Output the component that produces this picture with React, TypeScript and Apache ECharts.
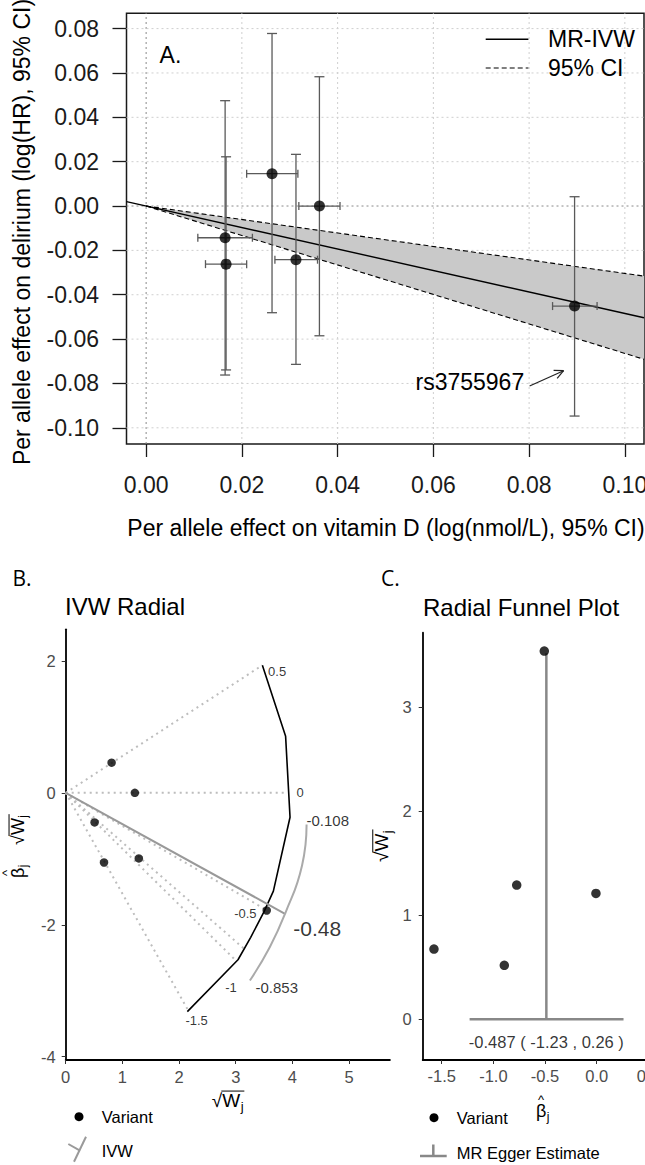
import React, { useEffect, useRef } from "react";
import * as echarts from "echarts";

const FONT = "'Liberation Sans', Arial, Helvetica, sans-serif";
const LABEL_FONT = "'Open Sans', 'Noto Sans', sans-serif";
const A_FS = 23;

// ---------- Panel A: scatter of variant effects ----------
const aVariantX = [0.0165, 0.0167, 0.0263, 0.0313, 0.0362, 0.0895];
const aVariantXLow = [0.0108, 0.0124, 0.021, 0.0269, 0.0319, 0.0849];
const aVariantXHigh = [0.0222, 0.021, 0.0317, 0.0358, 0.0405, 0.0942];
const aVariantY = [-0.0143, -0.0262, 0.0146, -0.0242, 0.0, -0.0451];
const aVariantYLow = [-0.0762, -0.0739, -0.0481, -0.0714, -0.0585, -0.0947];
const aVariantYHigh = [0.0475, 0.0222, 0.0778, 0.0233, 0.0583, 0.0042];
const aIvwLine = [[-0.0041, 0.002], [0.104, -0.0504]];
const aCiUpper = [[0, 0], [0.104, -0.0316]];
const aCiLower = [[0, 0], [0.104, -0.0691]];
const aXTicks = [0, 0.02, 0.04, 0.06, 0.08, 0.1];
const aYTicks = [-0.1, -0.08, -0.06, -0.04, -0.02, 0, 0.02, 0.04, 0.06, 0.08];

// ---------- Panel B: IVW radial ----------
const bSqrtW = [0.81, 1.22, 0.51, 0.676, 1.29, 3.547];
const bBetaSqrtW = [0.458, 0.0, -0.448, -1.055, -0.994, -1.783];
const bRayEnds = [[3.47, 1.935], [3.9, 0], [3.55, -1.78], [3.15, -2.365], [3.0, -2.54], [2.146, -3.275]];
const bScaleCurve = [[3.47, 1.935], [3.88, 0.857], [3.958, -0.37], [3.664, -1.49], [3.5, -1.8], [3.264, -2.19], [3.04, -2.53], [2.146, -3.316]];
const bScaleLabels = ["0.5", "0", "-0.5", "-1", "-1.5"];
const bScaleLabelPos = [[3.73, 1.833], [4.135, 0], [3.17, -1.833], [2.917, -2.95], [2.31, -3.45]];
const bIvwLine = [[0, 0], [3.87, -1.833]];
const bIvwArc = [[4.25, -0.48], [4.17, -1.1], [3.87, -1.833], [3.6, -2.34], [3.25, -2.845]];
const bArcLabels = ["-0.108", "-0.48", "-0.853"];
const bArcLabelPos = [[4.24, -0.42], [4.006, -2.06], [3.34, -2.95]];
const bArcLabelSize = [15, 21, 15];
const bXTicks = [0, 1, 2, 3, 4, 5];
const bYTicks = [-4, -2, 0, 2];

// ---------- Panel C: radial funnel ----------
const cBeta = [-0.507, -0.774, -0.007, -1.575, -0.894];
const cSqrtW = [3.54, 1.291, 1.21, 0.676, 0.519];
const cEgger = -0.487;
const cEggerLow = -1.23;
const cEggerHigh = 0.26;
const cEggerTop = 3.52;
const cEggerText = "-0.487 ( -1.23 , 0.26 )";
const cXTicks = [-1.5, -1, -0.5, 0, 0.5];
const cYTicks = [0, 1, 2, 3];

const A_X = [-0.0041, 0.104];
const A_Y = [-0.1073, 0.0869];

function txt(text: string, x: number, y: number, size: number, o: any = {}) {
  return {
    type: "text",
    x,
    y,
    rotation: o.rotation || 0,
    silent: true,
    z: 100,
    style: {
      text,
      fill: o.color || "#000",
      font: `${o.weight || "normal"} ${size}px ${o.family || FONT}`,
      textAlign: o.align || "left",
      textVerticalAlign: o.valign || "middle",
    },
  };
}
function seg(x1: number, y1: number, x2: number, y2: number, stroke: string, lineWidth: number, lineDash?: number[]) {
  return {
    type: "line",
    silent: true,
    z: 100,
    shape: { x1, y1, x2, y2 },
    style: { stroke, lineWidth, lineDash: lineDash || null },
  };
}

function sqrtWChildren(s: number, x0: number) {
  const w1 = s * (0.549 + 0.944);
  return [
    { type: "text", x: x0, y: 0, style: { text: "√W", font: `${s}px ${FONT}`, fill: "#000", textAlign: "left", textVerticalAlign: "middle" } },
    { type: "text", x: x0 + w1 + 0.5, y: s * 0.32, style: { text: "j", font: `${Math.round(s * 0.68)}px ${FONT}`, fill: "#000", textAlign: "left", textVerticalAlign: "middle" } },
    { type: "line", shape: { x1: x0 + s * 0.5, y1: -s * 0.47, x2: x0 + w1 + s * 0.22, y2: -s * 0.47 }, style: { stroke: "#000", lineWidth: 1 } },
  ];
}
function betaChildren(s: number, x0: number) {
  const bw = s * 0.57;
  return [
    { type: "text", x: x0, y: 0, style: { text: "β", font: `${s}px ${FONT}`, fill: "#000", textAlign: "left", textVerticalAlign: "middle" } },
    { type: "text", x: x0 + bw / 2, y: -s * 0.62, style: { text: "^", font: `${Math.round(s * 0.7)}px ${FONT}`, fill: "#000", textAlign: "center", textVerticalAlign: "middle" } },
    { type: "text", x: x0 + bw + 0.5, y: s * 0.32, style: { text: "j", font: `${Math.round(s * 0.68)}px ${FONT}`, fill: "#000", textAlign: "left", textVerticalAlign: "middle" } },
  ];
}

function buildOption(): any {
  const aGridV = {
    type: "custom",
    xAxisIndex: 0,
    yAxisIndex: 0,
    silent: true,
    z: 1,
    data: aXTicks.map((v) => [v, 0]),
    renderItem: (_p: any, api: any) => {
      const v = api.value(0);
      const p1 = api.coord([v, A_Y[0]]);
      const p2 = api.coord([v, A_Y[1]]);
      return { type: "line", shape: { x1: p1[0], y1: p1[1], x2: p2[0], y2: p2[1] }, style: { stroke: v === 0 ? "#8a8a8a" : "#cfcfcf", lineWidth: 1, lineDash: [2, 3] } };
    },
  };
  const aGridH = {
    type: "custom",
    xAxisIndex: 0,
    yAxisIndex: 0,
    silent: true,
    z: 1,
    data: aYTicks.map((v) => [0, v]),
    renderItem: (_p: any, api: any) => {
      const v = api.value(1);
      const p1 = api.coord([A_X[0], v]);
      const p2 = api.coord([A_X[1], v]);
      return { type: "line", shape: { x1: p1[0], y1: p1[1], x2: p2[0], y2: p2[1] }, style: { stroke: v === 0 ? "#8a8a8a" : "#cfcfcf", lineWidth: 1, lineDash: [2, 3] } };
    },
  };
  const aBand = {
    type: "custom",
    xAxisIndex: 0,
    yAxisIndex: 0,
    silent: true,
    z: 2,
    data: [[0, 0]],
    renderItem: (_p: any, api: any) => {
      const pts = aCiUpper.concat(aCiLower.slice().reverse()).map((p) => api.coord(p));
      return { type: "polygon", shape: { points: pts }, style: { fill: "#c9c9c9", stroke: "none" } };
    },
  };
  const aErr = {
    type: "custom",
    xAxisIndex: 0,
    yAxisIndex: 0,
    silent: true,
    z: 4,
    encode: { x: 0, y: 1 },
    data: aVariantX.map((x, i) => [x, aVariantY[i], aVariantXLow[i], aVariantXHigh[i], aVariantYLow[i], aVariantYHigh[i]]),
    renderItem: (_p: any, api: any) => {
      const x = api.value(0), y = api.value(1);
      const pT = api.coord([x, api.value(5)]);
      const pB = api.coord([x, api.value(4)]);
      const pL = api.coord([api.value(2), y]);
      const pR = api.coord([api.value(3), y]);
      const st = { stroke: "#5a5a5a", lineWidth: 1.3 };
      const cw = 5, ch = 4;
      const L = (x1: number, y1: number, x2: number, y2: number) => ({ type: "line", shape: { x1, y1, x2, y2 }, style: st });
      return {
        type: "group",
        children: [
          L(pT[0], pT[1], pB[0], pB[1]),
          L(pT[0] - cw, pT[1], pT[0] + cw, pT[1]),
          L(pB[0] - cw, pB[1], pB[0] + cw, pB[1]),
          L(pL[0], pL[1], pR[0], pR[1]),
          L(pL[0], pL[1] - ch, pL[0], pL[1] + ch),
          L(pR[0], pR[1] - ch, pR[0], pR[1] + ch),
        ],
      };
    },
  };

  const bRays = {
    type: "custom",
    xAxisIndex: 1,
    yAxisIndex: 1,
    silent: true,
    z: 2,
    data: bRayEnds,
    renderItem: (_p: any, api: any) => {
      const o = api.coord([0, 0]);
      const e = api.coord([api.value(0), api.value(1)]);
      return { type: "line", shape: { x1: o[0], y1: o[1], x2: e[0], y2: e[1] }, style: { stroke: "#bdbdbd", lineWidth: 2, lineDash: [2, 4] } };
    },
  };

  const axisTextB = { color: "#4d4d4d", fontSize: 16.5, fontFamily: FONT };

  const arrowFrom = [529.6, 386];
  const arrowTo = [563.6, 370.7];
  const ang = Math.atan2(arrowTo[1] - arrowFrom[1], arrowTo[0] - arrowFrom[0]);
  const heads = [ang + Math.PI - 0.45, ang + Math.PI + 0.45].map((a) =>
    seg(arrowTo[0], arrowTo[1], arrowTo[0] + 10 * Math.cos(a), arrowTo[1] + 10 * Math.sin(a), "#222", 1.2)
  );

  const graphic: any[] = [
    // Panel A annotations
    txt("A.", 159.6, 55, A_FS),
    seg(485.7, 39.3, 528.4, 39.3, "#000", 1.4),
    seg(485.7, 68, 528.4, 68, "#000", 1.1, [5, 3]),
    txt("MR-IVW", 548, 39.3, A_FS),
    txt("95% CI", 548, 68, A_FS),
    txt("rs3755967", 524.2, 381.7, A_FS, { align: "right" }),
    seg(arrowFrom[0], arrowFrom[1], arrowTo[0], arrowTo[1], "#222", 1.2),
    ...heads,
    txt("Per allele effect on vitamin D (log(nmol/L), 95% CI)", 386, 528.3, A_FS, { align: "center" }),
    txt("Per allele effect on delirium (log(HR), 95% CI)", 21.7, 232, A_FS, { align: "center", rotation: Math.PI / 2 }),
    // Panel labels and titles
    txt("B.", 12.4, 578.3, 21, { family: LABEL_FONT }),
    txt("C.", 381, 578.3, 21, { family: LABEL_FONT }),
    txt("IVW Radial", 65, 606, 24),
    txt("Radial Funnel Plot", 423, 607, 24),
    // Panel B axis titles
    { type: "group", x: 227.8, y: 1100, silent: true, children: sqrtWChildren(19, -16) },
    {
      type: "group",
      x: 17.5,
      y: 845,
      rotation: Math.PI / 2,
      silent: true,
      children: [...betaChildren(18, -33), ...sqrtWChildren(18, 0)],
    },
    // Panel C axis titles
    { type: "group", x: 543, y: 1111, silent: true, children: betaChildren(18, -7) },
    { type: "group", x: 381.7, y: 846, rotation: Math.PI / 2, silent: true, children: sqrtWChildren(19, -16) },
    // Legends B
    { type: "circle", silent: true, shape: { cx: 79, cy: 1116.7, r: 4.5 }, style: { fill: "#000" } },
    txt("Variant", 101.7, 1117, 16.5),
    seg(68.3, 1144, 80, 1150.7, "#9a9a9a", 2),
    seg(86, 1136.7, 74, 1161.7, "#9a9a9a", 2),
    txt("IVW", 101.7, 1151, 16.5),
    // Legends C
    { type: "circle", silent: true, shape: { cx: 434, cy: 1117.7, r: 4.5 }, style: { fill: "#000" } },
    txt("Variant", 456.7, 1117.7, 16.5),
    seg(420, 1156, 446.7, 1156, "#888", 2.5),
    seg(433.3, 1144.5, 433.3, 1156, "#888", 2.5),
    txt("MR Egger Estimate", 456.7, 1152.7, 16.5),
  ];

  return {
    animation: false,
    backgroundColor: "#fff",
    textStyle: { fontFamily: FONT },
    grid: [
      { left: 126.5, top: 13.3, width: 517.5, height: 430.7, show: true, borderColor: "#1a1a1a", borderWidth: 1.5, backgroundColor: "transparent", outerBoundsMode: "none" },
      { left: 65.7, top: 629.3, width: 324.2, height: 430.7, outerBoundsMode: "none" },
      { left: 422.7, top: 632.7, width: 240.6, height: 427.3, outerBoundsMode: "none" },
    ],
    xAxis: [
      {
        gridIndex: 0, type: "value", min: A_X[0], max: A_X[1], position: "bottom",
        axisLine: { show: false, onZero: false }, splitLine: { show: false },
        axisTick: { show: true, customValues: aXTicks, length: 13, lineStyle: { color: "#1a1a1a", width: 1.3 } },
        axisLabel: { customValues: aXTicks, formatter: (v: number) => v.toFixed(2), fontSize: A_FS, color: "#1a1a1a", fontFamily: FONT, margin: 29 },
      },
      {
        gridIndex: 1, type: "value", min: 0, max: 5.72, position: "bottom",
        axisLine: { show: true, onZero: false, lineStyle: { color: "#000", width: 1.8 } }, splitLine: { show: false },
        axisTick: { show: true, customValues: bXTicks, length: 4, lineStyle: { color: "#333", width: 1 } },
        axisLabel: { customValues: bXTicks, formatter: (v: number) => String(v), margin: 8, ...axisTextB },
      },
      {
        gridIndex: 2, type: "value", min: -1.684, max: 0.645, position: "bottom",
        axisLine: { show: true, onZero: false, lineStyle: { color: "#000", width: 1.8 } }, splitLine: { show: false },
        axisTick: { show: true, customValues: cXTicks, length: 4, lineStyle: { color: "#333", width: 1 } },
        axisLabel: { customValues: cXTicks, formatter: (v: number) => v.toFixed(1), margin: 7, ...axisTextB },
      },
    ],
    yAxis: [
      {
        gridIndex: 0, type: "value", min: A_Y[0], max: A_Y[1], position: "left",
        axisLine: { show: false, onZero: false }, splitLine: { show: false },
        axisTick: { show: true, customValues: aYTicks, length: 14, lineStyle: { color: "#1a1a1a", width: 1.3 } },
        axisLabel: { customValues: aYTicks, formatter: (v: number) => v.toFixed(2), fontSize: A_FS, color: "#1a1a1a", fontFamily: FONT, margin: 27.5 },
      },
      {
        gridIndex: 1, type: "value", min: -4.05, max: 2.48, position: "left",
        axisLine: { show: true, onZero: false, lineStyle: { color: "#000", width: 1.8 } }, splitLine: { show: false },
        axisTick: { show: true, customValues: bYTicks, length: 4, lineStyle: { color: "#333", width: 1 } },
        axisLabel: { customValues: bYTicks, formatter: (v: number) => String(v), margin: 10, ...axisTextB },
      },
      {
        gridIndex: 2, type: "value", min: -0.391, max: 3.717, position: "left",
        axisLine: { show: true, onZero: false, lineStyle: { color: "#000", width: 1.8 } }, splitLine: { show: false },
        axisTick: { show: true, customValues: cYTicks, length: 4, lineStyle: { color: "#333", width: 1 } },
        axisLabel: { customValues: cYTicks, formatter: (v: number) => String(v), margin: 11, ...axisTextB },
      },
    ],
    series: [
      aGridV,
      aGridH,
      aBand,
      { type: "line", xAxisIndex: 0, yAxisIndex: 0, z: 3, silent: true, symbol: "none", data: aCiUpper, lineStyle: { color: "#000", width: 1.1, type: [5, 3] } },
      { type: "line", xAxisIndex: 0, yAxisIndex: 0, z: 3, silent: true, symbol: "none", data: aCiLower, lineStyle: { color: "#000", width: 1.1, type: [5, 3] } },
      { type: "line", xAxisIndex: 0, yAxisIndex: 0, z: 3, silent: true, symbol: "none", data: aIvwLine, lineStyle: { color: "#000", width: 1.4 } },
      aErr,
      { type: "scatter", xAxisIndex: 0, yAxisIndex: 0, z: 5, silent: true, symbolSize: 11, itemStyle: { color: "#000" }, data: aVariantX.map((x, i) => [x, aVariantY[i]]) },
      // Panel B
      bRays,
      { type: "line", xAxisIndex: 1, yAxisIndex: 1, z: 3, silent: true, symbol: "none", data: bScaleCurve, lineStyle: { color: "#000", width: 1.6 } },
      { type: "line", xAxisIndex: 1, yAxisIndex: 1, z: 3, silent: true, symbol: "none", data: bIvwLine, lineStyle: { color: "#999", width: 2 } },
      { type: "line", xAxisIndex: 1, yAxisIndex: 1, z: 3, silent: true, symbol: "none", smooth: true, data: bIvwArc, lineStyle: { color: "#aaa", width: 2 } },
      {
        type: "scatter", xAxisIndex: 1, yAxisIndex: 1, z: 6, silent: true, symbolSize: 1, itemStyle: { color: "rgba(0,0,0,0)" },
        data: bScaleLabels.map((n, i) => ({ name: n, value: bScaleLabelPos[i] })),
        label: { show: true, position: "inside", formatter: (p: any) => p.name, color: "#000", fontSize: 13, fontFamily: FONT },
      },
      {
        type: "scatter", xAxisIndex: 1, yAxisIndex: 1, z: 6, silent: true, symbolSize: 1, itemStyle: { color: "rgba(0,0,0,0)" },
        data: bArcLabels.map((n, i) => ({ name: n, value: bArcLabelPos[i], label: { fontSize: bArcLabelSize[i] } })),
        label: { show: true, position: "right", distance: 0, formatter: (p: any) => p.name, color: "#000", fontSize: 15, fontFamily: FONT },
      },
      { type: "scatter", xAxisIndex: 1, yAxisIndex: 1, z: 5, silent: true, symbolSize: 8.5, itemStyle: { color: "#000" }, data: bSqrtW.map((x, i) => [x, bBetaSqrtW[i]]) },
      // Panel C
      { type: "line", xAxisIndex: 2, yAxisIndex: 2, z: 3, silent: true, symbol: "none", data: [[cEgger, 0], [cEgger, cEggerTop]], lineStyle: { color: "#888", width: 2.5 } },
      { type: "line", xAxisIndex: 2, yAxisIndex: 2, z: 3, silent: true, symbol: "none", data: [[cEggerLow, 0], [cEggerHigh, 0]], lineStyle: { color: "#888", width: 2.5 } },
      {
        type: "scatter", xAxisIndex: 2, yAxisIndex: 2, z: 6, silent: true, symbolSize: 1, itemStyle: { color: "rgba(0,0,0,0)" },
        data: [{ name: cEggerText, value: [cEgger, -0.215] }],
        label: { show: true, position: "inside", formatter: (p: any) => p.name, color: "#000", fontSize: 16.5, fontFamily: FONT },
      },
      { type: "scatter", xAxisIndex: 2, yAxisIndex: 2, z: 5, silent: true, symbolSize: 9.5, itemStyle: { color: "#000" }, data: cBeta.map((x, i) => [x, cSqrtW[i]]) },
    ],
    graphic,
  };
}

export default function App() {
  const ref = useRef<HTMLDivElement>(null);
  useEffect(() => {
    if (!ref.current) return;
    const chart = echarts.init(ref.current, null, { renderer: "svg" });
    chart.setOption(buildOption());
    return () => chart.dispose();
  }, []);
  return (
    <div style={{ position: "fixed", left: 0, top: 0, width: 645, height: 1165, overflow: "hidden", background: "#fff" }}>
      <div ref={ref} style={{ width: 700, height: 1165 }} />
    </div>
  );
}
